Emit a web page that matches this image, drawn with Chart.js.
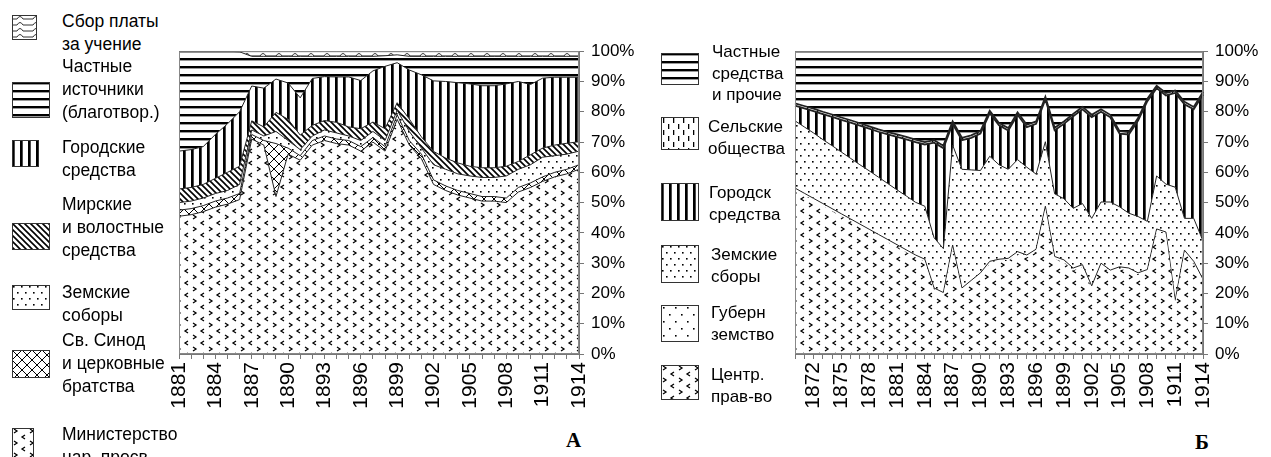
<!DOCTYPE html>
<html>
<head>
<meta charset="utf-8">
<script src="https://cdn.jsdelivr.net/npm/chart.js@4.4.0/dist/chart.umd.min.js"></script>
<style>
    html, body { margin: 0; padding: 0; background: #fff; }
    body { width: 1271px; height: 457px; position: relative; overflow: hidden; font-family: "Liberation Sans", Arial, sans-serif; color: #000; }
    canvas.chart { position: absolute; }
    .sw { position: absolute; }
    .lt { position: absolute; white-space: nowrap; }
    .lt.a { font-size: 17.5px; line-height: 23px; }
    .lt.b { font-size: 17px; line-height: 21.7px; }
    .mark { position: absolute; font-family: "Liberation Serif", "DejaVu Serif", serif; font-weight: bold; font-size: 21px; }
</style>
</head>
<body>
<canvas id="chartA" class="chart" width="481" height="390" style="left:159px;top:34px"></canvas>
<canvas id="chartB" class="chart" width="496" height="390" style="left:775px;top:34px"></canvas>
<div class="mark" style="left:566px;top:428px">А</div>
<div class="mark" style="left:1195px;top:430px">Б</div>
<div id="legend"></div>

<script>
// ---- data, chart A (1881-1914), upper edge of each band, % ----
const yearsA = ['1881', '1882', '1883', '1884', '1885', '1886', '1887', '1888', '1889', '1890',
    '1891', '1892', '1893', '1894', '1895', '1896', '1897', '1898', '1899', '1900',
    '1901', '1902', '1903', '1904', '1905', '1906', '1907', '1908', '1909', '1910',
    '1911', '1912', '1913', '1914'];
const ministryA = [45.5, 46, 47, 48.5, 49.5, 51, 71, 69, 52, 66, 64, 69, 70.5, 69.5, 69, 67, 70, 67, 77.5, 69,
    64.5, 56, 54, 52.5, 51.5, 50.5, 50.5, 50, 53.5, 55, 57, 58.5, 59.5, 61];
const synodA = [47.5, 48, 49, 50.5, 51.5, 53, 72.5, 70.5, 69.5, 68, 65.5, 70.5, 72, 71, 70.5, 68.5, 71.5, 68.5, 79, 70.5,
    66, 57.5, 55.5, 54, 53, 52, 52, 51.5, 55, 56.5, 58.5, 60, 61, 62.5];
const zemstvoA = [50, 50.5, 51.5, 53, 54, 56, 74, 72, 73.5, 70.5, 67.5, 72, 74, 73, 72, 70.5, 73.5, 70.5, 80.5, 73.5,
    68, 62.5, 61, 59.5, 58.8, 58.3, 58.3, 58.8, 61, 62.5, 65, 65.5, 66, 67];
const mirA = [54.5, 55, 56, 58, 60, 62, 77, 75, 79.8, 77.5, 72.3, 75.5, 77.1, 76.5, 75, 74.4, 76.6, 74.4, 83, 77.6,
    71.7, 66.9, 64.7, 63.1, 62, 61.5, 61.5, 62, 63.6, 65.8, 68, 69, 69.6, 70.1];
const cityA = [67, 67.5, 68.5, 72.5, 76, 80, 88.5, 87.8, 90.8, 89.5, 84.6, 91, 91.6, 91.5, 91.5, 90.3, 93.5, 95, 96.2, 93.8,
    92.2, 90.2, 90, 89.6, 89.2, 88.6, 88.6, 89.2, 90, 89, 91.1, 91.4, 91.4, 91.4];
const privateA = [100, 100, 100, 100, 100, 99.8, 98.3, 98.3, 98.3, 98.3, 98.3, 98.3, 98.3, 98.3, 98.3, 98.3, 98.3, 98.5, 98.8, 98.3,
    98.3, 98.3, 98.3, 98.3, 98.3, 98.3, 98.3, 98.3, 98.3, 98.3, 98.3, 98.3, 98.3, 98.3];
const feesA = [100, 100, 100, 100, 100, 100, 100, 100, 100, 100, 100, 100, 100, 100, 100, 100, 100, 100, 100, 100,
    100, 100, 100, 100, 100, 100, 100, 100, 100, 100, 100, 100, 100, 100];

// ---- data, chart B (1870-1914) ----
const yearsB = ['1870', '1871', '1872', '1873', '1874', '1875', '1876', '1877', '1878', '1879',
    '1880', '1881', '1882', '1883', '1884', '1885', '1886', '1887', '1888', '1889',
    '1890', '1891', '1892', '1893', '1894', '1895', '1896', '1897', '1898', '1899',
    '1900', '1901', '1902', '1903', '1904', '1905', '1906', '1907', '1908', '1909',
    '1910', '1911', '1912', '1913', '1914'];
const centreB = [54, 52.3, 50.6, 48.9, 47.2, 45.5, 43.8, 42.1, 40.4, 38.7, 37, 35.3, 33.6, 31.9, 30.5,
    21, 19.5, 35.2, 21, 23.5, 26, 29.8, 30.5, 30.8, 33, 31.9, 33.8, 48, 31.4, 30.3,
    27.6, 28.7, 21.7, 29.2, 26.9, 28, 27.6, 26, 27.1, 40.5, 39.5, 16.9, 33.5, 29.8, 23.9];
const gubernB = [54.8, 53.1, 51.4, 49.7, 48, 46.3, 44.6, 42.9, 41.2, 39.5, 37.8, 36.1, 34.4, 32.7, 31.3,
    21.8, 20.3, 36, 21.8, 24.3, 26.8, 30.6, 31.3, 31.6, 33.8, 32.7, 34.6, 48.8, 32.2, 31.1,
    28.4, 29.5, 22.5, 30, 27.7, 28.8, 28.4, 26.8, 27.9, 41.3, 40.3, 17.7, 34.3, 30.6, 24.7];
const zemstvoB = [77, 75, 73, 70.8, 68.8, 66.7, 64.6, 62.5, 60.5, 58.4, 56.3, 54.2, 52.2, 50.1, 48.8,
    38.4, 34.8, 69, 61, 60.8, 60.6, 65.3, 62.5, 61, 64.2, 61.7, 59.4, 70.1, 52.9, 51.3,
    48.1, 49.7, 44.8, 50.2, 50.2, 48.6, 46.5, 45.4, 43.8, 58.8, 56.1, 55.1, 44.8, 44.8, 37.3];
const cityB = [82, 81.1, 80.2, 79.2, 78.3, 77.3, 76.4, 75.4, 74.4, 73.4, 72.5, 71.7, 70.9, 70, 69.2,
    69.8, 68, 76, 70.6, 71.4, 72.8, 79.5, 75.5, 73.8, 79, 74.9, 76, 84.1, 73.9, 76,
    78.5, 80.8, 78.2, 80, 78.2, 72.8, 72.5, 77.1, 83.5, 87.8, 85.4, 86.2, 82.5, 80.8, 85.7];
const villageB = [82.8, 81.9, 81, 80, 79.1, 78.1, 77.2, 76.2, 75.2, 74.2, 73.3, 72.5, 71.7, 70.8, 70,
    70.6, 68.8, 76.8, 71.4, 72.2, 73.6, 80.3, 76.3, 74.6, 79.8, 75.7, 76.8, 84.9, 74.7, 76.8,
    79.3, 81.6, 79, 80.8, 79, 73.6, 73.3, 77.9, 84.3, 88.6, 86.2, 87, 83.3, 81.6, 86.5];
const privateB = [100, 100, 100, 100, 100, 100, 100, 100, 100, 100, 100, 100, 100, 100, 100,
    100, 100, 100, 100, 100, 100, 100, 100, 100, 100, 100, 100, 100, 100, 100,
    100, 100, 100, 100, 100, 100, 100, 100, 100, 100, 100, 100, 100, 100, 100];

const percentTicks = [0, 10, 20, 30, 40, 50, 60, 70, 80, 90, 100];

Chart.defaults.font.family = '"Liberation Sans", Arial, sans-serif';
Chart.defaults.color = '#000';

// ---- hatch patterns ----
function makePattern(w, h, draw) {
    const c = document.createElement('canvas');
    c.width = w;
    c.height = h;
    const g = c.getContext('2d');
    g.fillStyle = '#fff';
    g.fillRect(0, 0, w, h);
    g.fillStyle = '#000';
    g.strokeStyle = '#000';
    draw(g);
    return g.createPattern(c, 'repeat');
}

const patterns = {
    chevron: makePattern(16, 12, g => {
        g.lineWidth = 1.3;
        g.beginPath();
        g.moveTo(2, 1); g.lineTo(5, 3); g.lineTo(2, 5);
        g.moveTo(13, 7); g.lineTo(10, 9); g.lineTo(13, 11);
        g.stroke();
    }),
    dots: makePattern(8, 12, g => {
        g.fillRect(1, 1, 1.6, 1.6);
        g.fillRect(5, 7, 1.6, 1.6);
    }),
    sparse: makePattern(12, 14, g => {
        g.fillRect(2, 2, 1.6, 1.6);
        g.fillRect(8, 9, 1.6, 1.6);
    }),
    vertical: makePattern(8, 4, g => {
        g.fillRect(0, 0, 2.7, 4);
    }),
    horizontal: makePattern(4, 8, g => {
        g.fillRect(0, 0, 4, 2.4);
    }),
    diagonal: makePattern(6, 6, g => {
        g.lineWidth = 1.6;
        g.beginPath();
        g.moveTo(-1, -1); g.lineTo(7, 7);
        g.moveTo(-1, 5); g.lineTo(1, 7);
        g.moveTo(5, -1); g.lineTo(7, 1);
        g.stroke();
    }),
    lattice: makePattern(10, 10, g => {
        g.lineWidth = 1;
        g.beginPath();
        g.moveTo(0, 0); g.lineTo(10, 10);
        g.moveTo(10, 0); g.lineTo(0, 10);
        g.stroke();
    }),
    wavy: makePattern(16, 6, g => {
        g.lineWidth = 1;
        g.strokeStyle = '#333';
        g.beginPath();
        g.moveTo(0, 4); g.lineTo(5, 4);
        g.quadraticCurveTo(8, -1, 11, 4);
        g.lineTo(16, 4);
        g.stroke();
    }),
    dashes: makePattern(10, 12, g => {
        g.fillRect(2, 1, 1.3, 5);
        g.fillRect(7, 7, 1.3, 5);
    })
};

function band(label, data, pattern, fill, width) {
    return {
        label: label,
        data: data,
        backgroundColor: patterns[pattern],
        borderColor: '#222',
        borderWidth: width === undefined ? 1 : width,
        fill: fill,
        pointRadius: 0,
        tension: 0
    };
}

const frame = {
    id: 'frame',
    afterDraw(chart) {
        const a = chart.chartArea;
        const ctx = chart.ctx;
        ctx.save();
        ctx.strokeStyle = '#888';
        ctx.lineWidth = 1;
        ctx.strokeRect(a.left + 0.5, a.top + 0.5, a.right - a.left - 1, a.bottom - a.top - 1);
        ctx.restore();
    }
};

function options(firstLabel, axisWidth) {
    return {
        responsive: false,
        animation: false,
        layout: {padding: {left: 20, top: 10, right: 0, bottom: 0}},
        plugins: {legend: {display: false}, tooltip: {enabled: false}},
        scales: {
            x: {
                type: 'category',
                offset: false,
                grid: {drawOnChartArea: false, tickLength: 5, color: '#777'},
                border: {color: '#777'},
                ticks: {
                    autoSkip: false,
                    minRotation: 90,
                    maxRotation: 90,
                    padding: 3,
                    font: {size: 21},
                    callback: function (value, index) {
                        const label = this.getLabelForValue(value);
                        return (Number(label) - firstLabel) % 3 === 0 ? label : '';
                    }
                },
                afterFit: s => { s.height = 70; }
            },
            y: {
                position: 'right',
                min: 0,
                max: 100,
                afterBuildTicks: s => { s.ticks = percentTicks.map(v => ({value: v})); },
                grid: {drawOnChartArea: false, tickLength: 5, color: '#777'},
                border: {color: '#777'},
                ticks: {padding: 7, font: {size: 17}, callback: v => v + '%'},
                afterFit: s => { s.width = axisWidth; }
            }
        }
    };
}

new Chart(document.getElementById('chartA'), {
    type: 'line',
    data: {
        labels: yearsA,
        datasets: [
            band('Министерство нар. просв.', ministryA, 'chevron', 'origin'),
            band('Св. Синод и церковные братства', synodA, 'lattice', '-1'),
            band('Земские соборы', zemstvoA, 'dots', '-1'),
            band('Мирские и волостные средства', mirA, 'diagonal', '-1'),
            band('Городские средства', cityA, 'vertical', '-1'),
            band('Частные источники (благотвор.)', privateA, 'horizontal', '-1'),
            band('Сбор платы за учение', feesA, 'wavy', '-1')
        ]
    },
    options: options(1881, 61),
    plugins: [frame]
});

new Chart(document.getElementById('chartB'), {
    type: 'line',
    data: {
        labels: yearsB,
        datasets: [
            band('Центр. прав-во', centreB, 'chevron', 'origin', 0),
            band('Губерн земство', gubernB, 'sparse', '-1'),
            band('Земские сборы', zemstvoB, 'dots', '-1'),
            band('Городск средства', cityB, 'vertical', '-1', 1.8),
            band('Сельские общества', villageB, 'dashes', '-1', 1.8),
            band('Частные средства и прочие', privateB, 'horizontal', '-1')
        ]
    },
    options: options(1872, 68),
    plugins: [frame]
});

// ---- legends (swatch box + text) ----
const legendItems = [
    {cls: 'a', p: 'wavy', box: [12, 15, 25, 25], tx: 62, ty: 10, text: 'Сбор платы<br>за учение'},
    {cls: 'a', p: 'horizontal', box: [12, 82, 38, 36], tx: 62, ty: 55, text: 'Частные<br>источники<br>(благотвор.)'},
    {cls: 'a', p: 'vertical', box: [12, 140, 27, 27], tx: 62, ty: 136, text: 'Городские<br>средства'},
    {cls: 'a', p: 'diagonal', box: [12, 223, 38, 27], tx: 62, ty: 193, text: 'Мирские<br>и волостные<br>средства'},
    {cls: 'a', p: 'dots', box: [12, 285, 38, 25], tx: 62, ty: 281, text: 'Земские<br>соборы'},
    {cls: 'a', p: 'lattice', box: [12, 350, 38, 28], tx: 62, ty: 329, text: 'Св. Синод<br>и церковные<br>братства'},
    {cls: 'a', p: 'chevron', box: [12, 428, 22, 30], tx: 62, ty: 423, text: 'Министерство<br>нар. просв.'},
    {cls: 'b', p: 'horizontal', box: [661, 53, 38, 32], tx: 712, ty: 41, text: 'Частные<br>средства<br>и прочие'},
    {cls: 'b', p: 'dashes', box: [661, 117, 38, 33], tx: 708, ty: 116, text: 'Сельские<br>общества'},
    {cls: 'b', p: 'vertical', box: [661, 183, 38, 38], tx: 709, ty: 182, text: 'Городск<br>средства'},
    {cls: 'b', p: 'dots', box: [661, 245, 38, 38], tx: 711, ty: 244, text: 'Земские<br>сборы'},
    {cls: 'b', p: 'sparse', box: [661, 305, 38, 37], tx: 711, ty: 302, text: 'Губерн<br>земство'},
    {cls: 'b', p: 'chevron', box: [661, 365, 38, 35], tx: 711, ty: 364, text: 'Центр.<br>прав-во'}
];

const legend = document.getElementById('legend');
legendItems.forEach(item => {
    const [x, y, w, h] = item.box;
    const c = document.createElement('canvas');
    c.className = 'sw';
    c.width = w;
    c.height = h;
    c.style.left = x + 'px';
    c.style.top = y + 'px';
    const g = c.getContext('2d');
    g.fillStyle = patterns[item.p];
    g.fillRect(0, 0, w, h);
    g.strokeStyle = '#333';
    g.strokeRect(0.5, 0.5, w - 1, h - 1);
    legend.appendChild(c);

    const t = document.createElement('div');
    t.className = 'lt ' + item.cls;
    t.style.left = item.tx + 'px';
    t.style.top = item.ty + 'px';
    t.innerHTML = item.text;
    legend.appendChild(t);
});
</script>
</body>
</html>
